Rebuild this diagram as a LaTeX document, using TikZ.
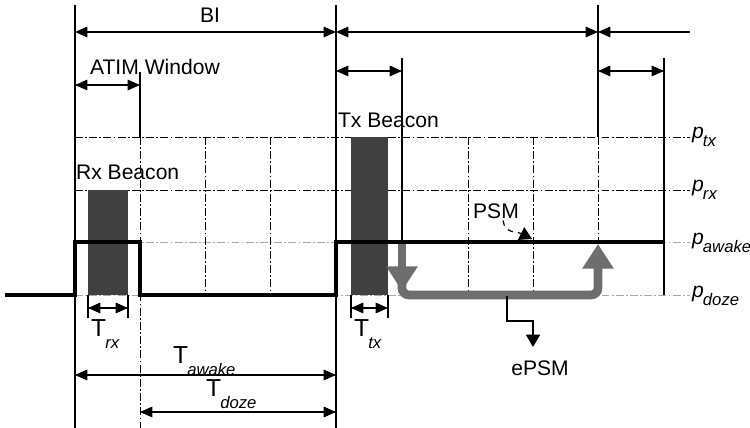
\documentclass[tikz,border=0pt]{standalone}
\usepackage{fontspec}
\setmainfont{Liberation Sans}
\usepackage{xcolor}
\usepackage{tikz}
\usetikzlibrary{arrows.meta}
\definecolor{beacon}{HTML}{404040}
\definecolor{epsm}{HTML}{6E6E6E}
\definecolor{lvl}{HTML}{A8A8A8}
\newcommand{\tsub}[1]{{\fontsize{14}{16}\selectfont T}\kern-0.5pt\raisebox{-1.0ex}{\fontsize{9.5}{10}\selectfont\itshape #1}}
\newcommand{\plev}[1]{\textit{p}\kern-0.5pt\raisebox{-0.7ex}{\fontsize{9.5}{10}\selectfont\itshape #1}}
\tikzset{
  bound/.style={line width=0.7pt},
  dimarrow/.style={
    {Triangle[length=7pt,width=6pt]}-{Triangle[length=7pt,width=6pt]},
    line width=0.7pt
  },
  dimtip/.style={{Triangle[length=7pt,width=6pt]}-, line width=0.7pt},
  gridline/.style={line width=0.5pt,
    dash pattern=on 4.5pt off 1.3pt on 1pt off 1.3pt},
  lvlline/.style={gridline, draw=lvl},
  signal/.style={line width=2.8pt, line join=miter},
  psmflow/.style={draw=epsm, line width=5pt,
    -{Triangle[length=14pt,width=17pt]}},
  beaconbox/.style={fill=beacon, draw=none},
  lbl/.style={font=\fontsize{12}{14}\selectfont, inner sep=1pt},
  callout/.style={line width=0.7pt, -{Triangle[length=7pt,width=8pt]}},
}

\begin{document}
\begin{tikzpicture}[x=0.02cm, y=-0.02cm]
  \useasboundingbox (0,0) rectangle (750,428);
  % power levels
  \draw[lvlline] (75,242) -- (690,242);
  \draw[lvlline] (75,295) -- (690,295);
  \draw[gridline] (75,137) -- (690,137);
  \draw[gridline] (75,190) -- (690,190);
  \foreach \x in {205,270,468,533}
    \draw[gridline] (\x,137) -- (\x,295);
  \draw[gridline] (140,137) -- (140,428);
  \draw[gridline] (598,137) -- (598,243);
  % beacons
  \fill[beaconbox] (88,190) rectangle (128,295);
  \fill[beaconbox] (351,137) rectangle (388,295);
  % boundaries
  \draw[bound] (75,5) -- (75,428);
  \draw[bound] (336,5) -- (336,428);
  \draw[bound] (598,5) -- (598,137);
  \draw[bound] (140,72) -- (140,137);
  \draw[bound] (402,58) -- (402,243);
  \draw[bound] (664,58) -- (664,295);
  % intervals
  \draw[dimarrow] (75,32) -- (336,32);
  \draw[dimarrow] (336,32) -- (598,32);
  \draw[dimtip] (598,32) -- (690,32);
  \draw[dimarrow] (75,85) -- (140,85);
  \draw[dimarrow] (336,71) -- (402,71);
  \draw[dimarrow] (598,71) -- (664,71);
  \draw[bound] (88,295) -- (88,318) (128,295) -- (128,318);
  \draw[dimarrow] (88,308) -- (128,308);
  \draw[bound] (351,295) -- (351,318) (388,295) -- (388,318);
  \draw[dimarrow] (351,308) -- (388,308);
  \draw[dimarrow] (75,375) -- (336,375);
  \draw[dimarrow] (140,412) -- (336,412);
  % station state
  \draw[signal] (5,295) -- (75,295) -- (75,242) -- (140,242) -- (140,295)
    -- (336,295) -- (336,242) -- (664,242);
  \draw[psmflow] (402,244) -- (402,291);
  \draw[psmflow, rounded corners=4pt] (402,280) -- (402,295) -- (598,295)
    -- (598,244);
  % labels
  \node[lbl] (bi) at (210,15) {BI};
  \node[lbl, anchor=west] (atim) at (88,67) {ATIM Window};
  \node[lbl, anchor=west] (txb) at (336,120) {Tx Beacon};
  \node[lbl, anchor=west] (rxb) at (74,172) {Rx Beacon};
  \node[lbl] (psm) at (496,211) {PSM};
  \node[lbl] (epsm) at (540,368) {ePSM};
  \node[lbl, anchor=west] (ptx) at (690,137) {\plev{tx}};
  \node[lbl, anchor=west] (prx) at (690,190) {\plev{rx}};
  \node[lbl, anchor=west] (pawake) at (690,243) {\plev{awake}};
  \node[lbl, anchor=west] (pdoze) at (690,296) {\plev{doze}};
  \node[lbl, anchor=base west] (trx) at (89,337) {\tsub{rx}};
  \node[lbl, anchor=base west] (ttx) at (352,337) {\tsub{tx}};
  \node[lbl, anchor=base west] (tawake) at (171,364) {\tsub{awake}};
  \node[lbl, anchor=base west] (tdoze) at (204,397) {\tsub{doze}};
  \coordinate (psmtip) at (532,239);
  \coordinate (epsmtip) at (533,347);
  \draw[callout, dashed] ([xshift=4pt]psm.south) .. controls (505,234) and (516,231) .. (psmtip);
  \draw[callout] (507,296) -- (507,321) -- (533,321) -- (epsmtip);
\end{tikzpicture}
\end{document}
